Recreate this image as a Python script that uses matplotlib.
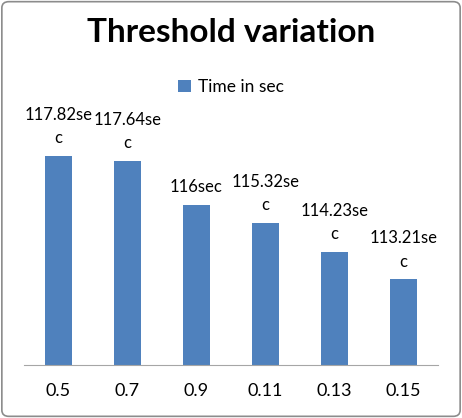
import matplotlib
matplotlib.use('Agg')
import matplotlib.pyplot as plt
from matplotlib.patches import FancyBboxPatch

categories = ["0.5", "0.7", "0.9", "0.11", "0.13", "0.15"]
times = [117.82, 117.64, 116, 115.32, 114.23, 113.21]
series_name = "Time in sec"
title = "Threshold variation"

plt.rcParams['font.family'] = ['Lato', 'DejaVu Sans']

fig = plt.figure(figsize=(4.62, 4.18), dpi=100)
ax = fig.add_axes([24 / 462, 53 / 418, 414 / 462, 235 / 418])

x = range(len(categories))
bars = ax.bar(x, times, width=0.4, color='#4F81BD', label=series_name)
ax.set_ylim(110, 118.8)
ax.set_xlim(-0.5, len(categories) - 0.5)

# Excel-style wrapped data labels
for xi, v in zip(x, times):
    lab = f"{v:g}sec"
    if len(lab) > 8:
        lab = lab[:8] + "\n" + lab[8:]
    ax.annotate(lab, (xi, v), xytext=(0, 7), textcoords='offset points',
                ha='center', va='bottom', fontsize=12, linespacing=1.55)

ax.set_xticks(list(x))
ax.set_xticklabels(categories, fontsize=13)
ax.tick_params(axis='x', length=0, pad=13)
ax.set_yticks([])
for s in ['top', 'right', 'left']:
    ax.spines[s].set_visible(False)
ax.spines['bottom'].set_color('#A6A6A6')

fig.text(0.5, (418 - 32) / 418, title, ha='center', va='center',
         fontsize=24, fontweight='bold')
fig.legend(handles=[bars], labels=[series_name], loc='center',
           bbox_to_anchor=(0.5, (418 - 87) / 418), frameon=False,
           fontsize=12.5, handlelength=0.7, handleheight=0.7, handletextpad=0.4)

frame = FancyBboxPatch((0.004, 0.004), 0.992, 0.992,
                       boxstyle="round,pad=0,rounding_size=0.015",
                       transform=fig.transFigure, fill=False,
                       edgecolor='#8C8C8C', linewidth=1.2)
fig.patches.append(frame)

fig.savefig("out.png", dpi=100)
